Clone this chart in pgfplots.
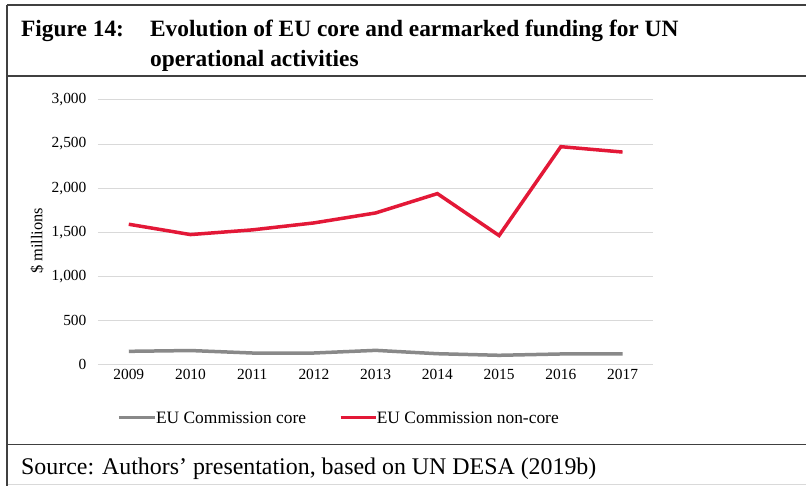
\documentclass[border=0pt]{standalone}
\usepackage{pgfplots}
\pgfplotsset{compat=1.18}
\usepackage{fontspec}
\setmainfont{Liberation Serif}
\definecolor{corecol}{HTML}{898989}
\definecolor{noncol}{HTML}{E31837}
\definecolor{gridcol}{HTML}{D9D9D9}
\definecolor{framecol}{HTML}{404040}
\begin{document}
\begin{tikzpicture}[x=1bp,y=1bp]
% canvas
\path[fill=white] (0,0) rectangle (807,486);
% frame
\draw[framecol,line width=1.5bp] (7,481) -- (807,481);
\draw[framecol,line width=1.5bp] (7,410) -- (807,410);
\draw[framecol,line width=1.5bp] (7,41) -- (807,41);
\draw[gridcol,line width=1bp] (7,1) -- (807,1);
\draw[framecol,line width=1.5bp] (7,481) -- (7,0);
% title
\node[anchor=base west,inner sep=0pt,font=\fontsize{23.5}{28}\selectfont\bfseries] at (21,449) {Figure 14:};
\node[anchor=base west,inner sep=0pt,font=\fontsize{23.5}{28}\selectfont\bfseries] at (150,449) {Evolution of EU core and earmarked funding for UN};
\node[anchor=base west,inner sep=0pt,font=\fontsize{23.5}{28}\selectfont\bfseries] at (150,419) {operational activities};
% source
\node[anchor=base west,inner sep=0pt,font=\fontsize{24}{28}\selectfont] at (21,11) {Source: Authors’ presentation, based on UN DESA (2019b)};
% y label
\node[rotate=90,font=\fontsize{16.5}{19}\selectfont] at (37,245) {\$ millions};
\begin{axis}[
  at={(98bp,121bp)}, anchor=south west,
  scale only axis, width=556bp, height=265bp,
  xmin=-0.5, xmax=8.5, ymin=0, ymax=3000,
  axis line style={draw=none},
  tick style={draw=none},
  ymajorgrids, grid style={gridcol,line width=1bp},
  ytick={0,500,1000,1500,2000,2500,3000},
  yticklabel style={font=\fontsize{15.5}{18}\selectfont, xshift=-8bp},
  /pgf/number format/assume math mode=true,
  /pgf/number format/.cd, 1000 sep={,}, /pgfplots/.cd,
  xtick={0,...,8},
  xticklabels={2009,2010,2011,2012,2013,2014,2015,2016,2017},
  xticklabel style={font=\fontsize{15.5}{18}\selectfont, yshift=-1bp},
  clip=false,
]
\addplot[corecol,line width=3.5bp] coordinates {(0,151) (1,160) (2,132) (3,132) (4,162) (5,124) (6,106) (7,121) (8,121)};
\addplot[noncol,line width=3.5bp] coordinates {(0,1591) (1,1474) (2,1527) (3,1606) (4,1719) (5,1938) (6,1463) (7,2470) (8,2409)};
\end{axis}
% legend
\draw[corecol,line width=3.5bp] (119,68) -- (155,68);
\node[anchor=west,inner sep=0pt,font=\fontsize{17.5}{20}\selectfont] at (156,68) {EU Commission core};
\draw[noncol,line width=3.5bp] (341,68) -- (376,68);
\node[anchor=west,inner sep=0pt,font=\fontsize{17.5}{20}\selectfont] at (377,68) {EU Commission non-core};
\end{tikzpicture}
\end{document}
